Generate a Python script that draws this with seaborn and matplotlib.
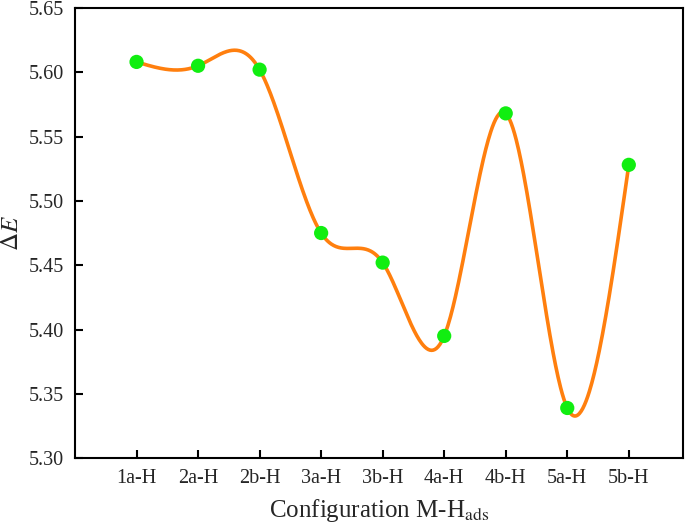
import numpy as np
import pandas as pd
import seaborn as sns
import matplotlib.pyplot as plt

# data
configs = ['1a-H', '2a-H', '2b-H', '3a-H', '3b-H', '4a-H', '4b-H', '5a-H', '5b-H']
delta_e = [5.608, 5.605, 5.602, 5.475, 5.452, 5.395, 5.568, 5.339, 5.528]
y_ticks = [5.30, 5.35, 5.40, 5.45, 5.50, 5.55, 5.60, 5.65]


def natural_spline(x, y, xs):
    # natural cubic spline through the points (Origin-style smooth line)
    x = np.asarray(x, float)
    y = np.asarray(y, float)
    n = len(x)
    h = np.diff(x)
    A = np.zeros((n, n))
    b = np.zeros(n)
    A[0, 0] = A[-1, -1] = 1
    for i in range(1, n - 1):
        A[i, i - 1] = h[i - 1]
        A[i, i] = 2 * (h[i - 1] + h[i])
        A[i, i + 1] = h[i]
        b[i] = 6 * ((y[i + 1] - y[i]) / h[i] - (y[i] - y[i - 1]) / h[i - 1])
    M = np.linalg.solve(A, b)
    idx = np.clip(np.searchsorted(x, xs) - 1, 0, n - 2)
    x0, x1 = x[idx], x[idx + 1]
    hh = x1 - x0
    t0 = x1 - xs
    t1 = xs - x0
    return (M[idx] * t0 ** 3 / (6 * hh) + M[idx + 1] * t1 ** 3 / (6 * hh)
            + (y[idx] / hh - M[idx] * hh / 6) * t0
            + (y[idx + 1] / hh - M[idx + 1] * hh / 6) * t1)


pos = np.arange(1, len(configs) + 1)
df = pd.DataFrame({'pos': pos, 'dE': delta_e})
xs = np.linspace(1, len(configs), 600)
df_curve = pd.DataFrame({'pos': xs, 'dE': natural_spline(pos, delta_e, xs)})

sns.set_theme(style="ticks")
plt.rcParams['font.family'] = ['Liberation Serif', 'DejaVu Serif']
plt.rcParams['mathtext.fontset'] = 'stix'

fig = plt.figure(figsize=(6.85, 5.26), dpi=100)
ax = fig.add_axes([0.1095, 0.129, 0.8875, 0.856])

sns.lineplot(data=df_curve, x='pos', y='dE', color='#FF7F0E', linewidth=2.6, ax=ax)
sns.scatterplot(data=df, x='pos', y='dE', color='#11EE11', s=105, edgecolor='none',
                zorder=3, ax=ax)

ax.set_xlim(0, 9.88)
ax.set_ylim(5.30, 5.65)
ax.set_xticks(pos)
ax.set_xticklabels(configs, fontsize=14.5)
ax.set_yticks(y_ticks)
ax.set_yticklabels([f'{v:.2f}' for v in y_ticks], fontsize=14.5)
ax.tick_params(direction='in', length=6, width=1.5, color='black', pad=8)
for s in ax.spines.values():
    s.set_linewidth(1.5)
    s.set_color('black')

ax.set_xlabel(r'Configuration M-H$_{\mathrm{ads}}$', fontsize=18, labelpad=6)
ax.set_ylabel(r'$\Delta E$', fontsize=18, labelpad=4)

plt.savefig('out.png', dpi=100)
